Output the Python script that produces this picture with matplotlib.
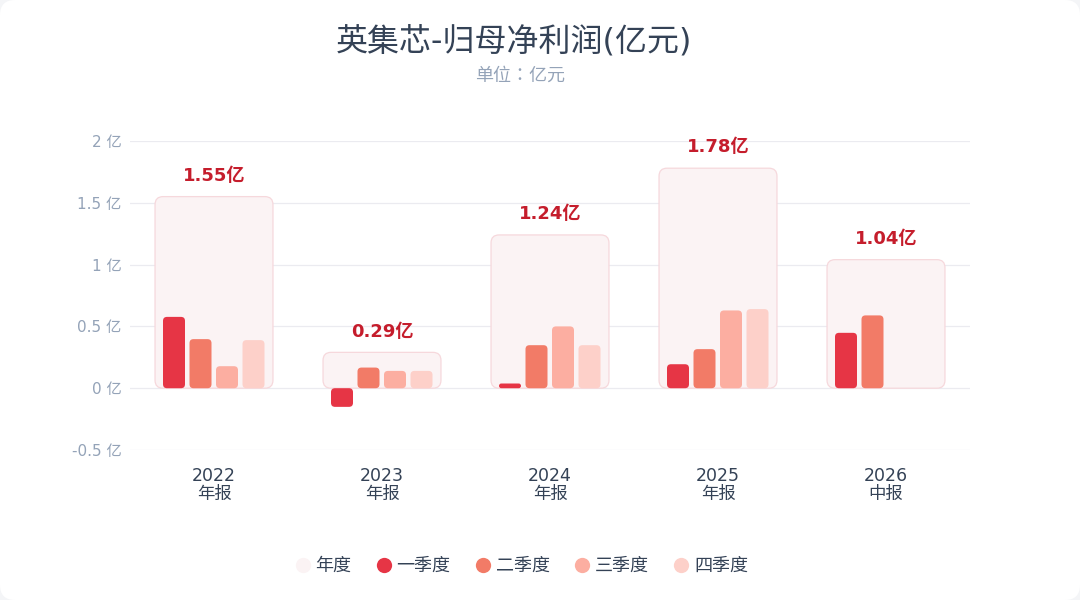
import matplotlib
matplotlib.use("Agg")
import matplotlib.pyplot as plt
import numpy as np
from matplotlib.patches import FancyBboxPatch
from matplotlib.lines import Line2D

plt.rcParams['font.family'] = ['DejaVu Sans', 'Noto Sans CJK SC']
plt.rcParams['axes.unicode_minus'] = False

# ---- data ----
periods = ['2022', '2023', '2024', '2025', '2026']
period_types = ['年报', '年报', '年报', '年报', '中报']
annual = [1.55, 0.29, 1.24, 1.78, 1.04]
annual_labels = ['1.55亿', '0.29亿', '1.24亿', '1.78亿', '1.04亿']
q1 = [0.577, -0.151, 0.038, 0.194, 0.448]
q2 = [0.397, 0.167, 0.348, 0.316, 0.589]
q3 = [0.178, 0.140, 0.500, 0.629, np.nan]
q4 = [0.389, 0.140, 0.348, 0.640, np.nan]
series_names = ['年度', '一季度', '二季度', '三季度', '四季度']
yticks = [-0.5, 0, 0.5, 1, 1.5, 2]
ytick_labels = ['-0.5 亿', '0 亿', '0.5 亿', '1 亿', '1.5 亿', '2 亿']
title = '英集芯-归母净利润(亿元)'
subtitle = '单位：亿元'

# ---- style ----
q_colors = ['#e63545', '#f27b67', '#fcaea1', '#fdd0c9']
annual_fill = '#fbf3f4'
annual_edge = '#f6d8dc'
label_red = '#c51d2c'
tick_gray = '#94a3b8'
text_dark = '#344256'
grid_col = '#ebebf0'

W, H = 1080, 600
fig = plt.figure(figsize=(W / 100, H / 100), dpi=100)
fig.patch.set_facecolor('#f4f5f7')
card = FancyBboxPatch((0, 0), 1, 1, boxstyle='round,pad=0,rounding_size=0.014',
                      mutation_aspect=W / H, transform=fig.transFigure,
                      facecolor='white', edgecolor='none', zorder=-10)
fig.patches.append(card)

left, right, top, bottom = 130 / W, 970 / W, 1 - 141 / H, 1 - 450 / H
ax = fig.add_axes([left, bottom, right - left, top - bottom])
ax.set_zorder(1)
ax.set_facecolor('none')
ax.set_xlim(-0.5, 4.5)
ax.set_ylim(-0.5, 2)

x = np.arange(len(periods))
px_x = (right - left) * W / 5.0      # pixels per x unit
px_y = (top - bottom) * H / 2.5      # pixels per y unit
aspect = px_x / px_y

# gridlines
for yv in yticks:
    ax.axhline(yv, color=grid_col, lw=0.9, zorder=0)


def rounded(b, col, rad_px, ec='none', lw=0, z=2):
    h = b.get_height()
    y0 = min(b.get_y(), b.get_y() + h)
    hh = abs(h)
    r = min(rad_px, hh * px_y / 2) / px_x
    p = FancyBboxPatch((b.get_x(), y0), b.get_width(), hh,
                       boxstyle=f'round,pad=0,rounding_size={r}', mutation_aspect=aspect,
                       facecolor=col, edgecolor=ec, lw=lw, zorder=z)
    ax.add_patch(p)
    b.set_visible(False)


# annual background boxes
ann_bars = ax.bar(x, annual, width=0.702, color='none', edgecolor='none', zorder=1)
for b in ann_bars:
    rounded(b, annual_fill, 8, ec=annual_edge, lw=0.9, z=1)

# quarterly bars
bw = 22 / px_x
offsets = np.array([-40, -13.5, 13, 39.5]) / px_x
for qi, (vals, col) in enumerate(zip([q1, q2, q3, q4], q_colors)):
    bars = ax.bar(x + offsets[qi], vals, width=bw, color=col, zorder=2)
    for b in bars:
        if not np.isfinite(b.get_height()):
            continue
        rounded(b, col, 4)

# annual labels
for xi, v, lab in zip(x, annual, annual_labels):
    ax.annotate(lab, (xi, v), xytext=(0, 15), textcoords='offset points',
                ha='center', va='center', fontsize=13, fontweight='bold', color=label_red,
                zorder=3)

ax.set_yticks(yticks)
ax.set_yticklabels(ytick_labels)
ax.set_xticks(x)
ax.set_xticklabels([f'{p}\n{t}' for p, t in zip(periods, period_types)], linespacing=1.0)
ax.tick_params(axis='y', length=0, pad=6, labelsize=11, labelcolor=tick_gray)
ax.tick_params(axis='x', length=0, pad=12, labelsize=12.5, labelcolor=text_dark)
for s in ax.spines.values():
    s.set_visible(False)

fig.text(514 / W, 1 - 42 / H, title, ha='center', va='center', fontsize=23,
         color=text_dark)
fig.text(520 / W, 1 - 76 / H, subtitle, ha='center', va='center', fontsize=13,
         color=tick_gray, family=['DejaVu Sans', 'Noto Sans CJK TC'])

handles = [Line2D([], [], marker='o', linestyle='none', markersize=11,
                  markerfacecolor=c, markeredgecolor='none')
           for c in [annual_fill] + q_colors]
leg = fig.legend(handles, series_names, loc='center', bbox_to_anchor=(520 / W, 1 - 566 / H),
                 ncol=5, frameon=False, fontsize=13, handletextpad=0.1,
                 columnspacing=1.2, handlelength=1.2)
for t in leg.get_texts():
    t.set_color(text_dark)

fig.savefig('out.png', dpi=100, facecolor=fig.get_facecolor())
